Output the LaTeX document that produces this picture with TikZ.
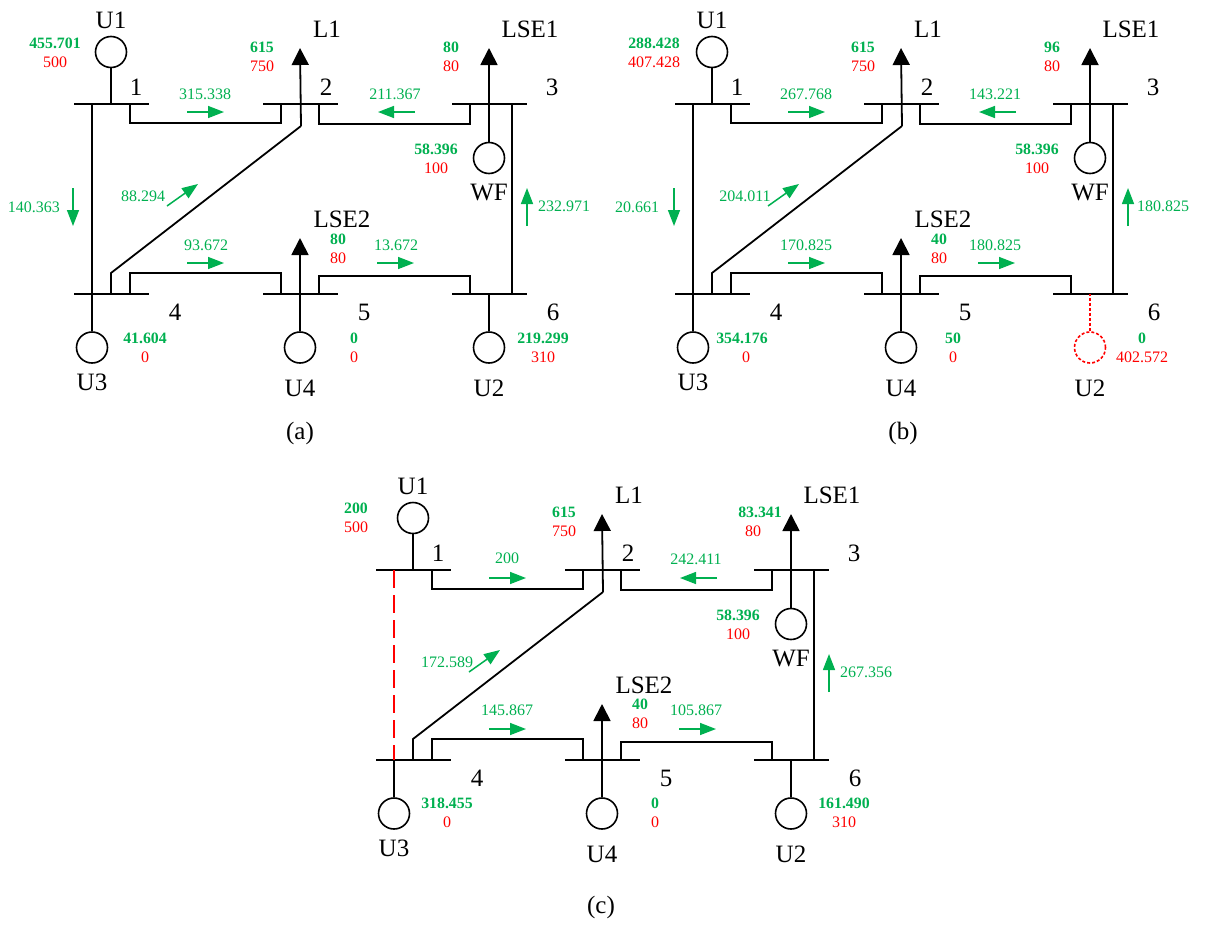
\documentclass[tikz,border=0pt]{standalone}
\usepackage{fontspec}
\setmainfont{Liberation Serif}
\usepackage{xcolor}
\usepackage{tikz}
\usetikzlibrary{arrows.meta, positioning, calc}
\definecolor{flowgreen}{RGB}{0,176,80}
\definecolor{limitred}{RGB}{255,0,0}

\tikzset{
    bus/.style={rectangle, fill=black, inner sep=0pt, minimum width=75pt, minimum height=1.9pt},
    gen/.style={circle, draw, line width=1.6pt, inner sep=0pt, minimum size=31pt},
    wire/.style={line width=1.8pt},
    load/.style={line width=1.8pt, -{Triangle[length=17pt, width=17pt]}},
    flow/.style={flowgreen, line width=1.5pt, -{Triangle[length=16pt, width=12pt]}},
    unitname/.style={inner sep=0pt, font=\fontsize{25}{27}\selectfont},
    busno/.style={inner sep=0pt, font=\fontsize{25}{27}\selectfont},
    flowval/.style={inner sep=0pt, text=flowgreen, font=\fontsize{16}{18}\selectfont},
    outval/.style={inner sep=0pt, text=flowgreen, font=\bfseries\fontsize{15.8}{18}\selectfont},
    capval/.style={inner sep=0pt, text=limitred, font=\fontsize{16}{18}\selectfont},
    panelcap/.style={inner sep=0pt, font=\fontsize{25}{27}\selectfont}
}

% green output with its red limit below
\newcommand{\valpair}[5][0]{
    \node[outval] (#2g) at (#3) {#4};
    \node[capval] (#2r) at ([xshift=#1pt, yshift=-19pt]#2g.center) {#5};
}

% network shared by the panels: #1 style of U2 and its stem
\newcommand{\drawnet}[1]{
    \foreach \n/\x/\y/\nx/\ny in {1/111/104/136/87, 2/300/104/326/87, 3/489/104/552/87,
                                  4/111/294/175/312, 5/300/294/364/312, 6/489/294/553/312} {
        \node[bus] (bus\n) at (\x,\y) {};
        \node[busno] (no\n) at (\nx,\ny) {\n};
    }
    % units and wind farm
    \node[gen] (U1c) at (111,52) {};
    \node[gen] (U3c) at (92,347.5) {};
    \node[gen] (U4c) at (300,347.5) {};
    \node[gen, #1] (U2c) at (489,347.5) {};
    \node[gen] (WFc) at (489,158) {};
    \node[unitname] (U1) at (111,20) {U1};
    \node[unitname] (U3) at (92,382) {U3};
    \node[unitname] (U4) at (300,388) {U4};
    \node[unitname] (U2) at (489,388) {U2};
    \node[unitname] (WF) at (489,192) {WF};
    \node[unitname] (L1) at (327,29) {L1};
    \node[unitname] (LSE1) at (530,29) {LSE1};
    \node[unitname] (LSE2) at (342,219) {LSE2};
    \coordinate (L1tip) at (300,48);
    \coordinate (L1foot) at (301,126);
    \coordinate (LSE1tip) at (489,48);
    \coordinate (LSE2tip) at (300,238);
    \coordinate (diag) at (111,273);

    \draw[wire] (U1c) -- (U1c |- bus1.center);
    \draw[wire] (U3c) -- (U3c |- bus4.center);
    \draw[wire] (U4c) -- (U4c |- bus5.center);
    \draw[wire, #1] (U2c) -- (U2c |- bus6.center);
    \draw[load] (L1foot) -- (L1tip);
    \draw[load] (WFc) -- (LSE1tip);
    \draw[load] (U4c) -- (LSE2tip);

    \draw[wire] ([xshift=19pt]bus1.center) -- ++(0,19) -| ([xshift=-19pt]bus2.center);
    \draw[wire] ([xshift=19pt]bus2.center) -- ++(0,20) -| ([xshift=-19pt]bus3.center);
    \draw[wire] ([xshift=19pt]bus4.center) -- ++(0,-21) -| ([xshift=-19pt]bus5.center);
    \draw[wire] ([xshift=19pt]bus5.center) -- ++(0,-18) -| ([xshift=-19pt]bus6.center);
    \draw[wire] ([xshift=23pt]bus3.center) -- ([xshift=23pt]bus6.center);
    \draw[wire] (L1foot) -- (diag) -- (diag |- bus4.center);

    % flow arrows
    \foreach \f/\xa/\ya/\xb/\yb in {fa/187/112/224/112, fb/415/112/378/112, fc/167/206/198/184,
                                    fd/527/226/527/188, fe/187/263/224/263, ff/377/263/414/263} {
        \coordinate (\f s) at (\xa,\ya);
        \coordinate (\f e) at (\xb,\yb);
        \draw[flow] (\f s) -- (\f e);
    }
}

\begin{document}
\begin{tikzpicture}[x=1pt, y=-1pt]
\useasboundingbox (0,0) rectangle (1207,924);

% panel (a)
\begin{scope}[name prefix=a-]
\drawnet{}
\draw[wire] ([xshift=-19pt]bus1.center) -- ([xshift=-19pt]bus4.center);
\coordinate (fgs) at (73,188);
\coordinate (fge) at (73,226);
\draw[flow] (fgs) -- (fge);
\valpair{u1}{55,43}{455.701}{500}
\valpair{l1}{262,47}{615}{750}
\valpair{ls1}{451,47}{80}{80}
\valpair{wf}{436,149}{58.396}{100}
\valpair{ls2}{338,239}{80}{80}
\valpair{u3}{145,338}{41.604}{0}
\valpair{u4}{354,338}{0}{0}
\valpair{u2}{543,338}{219.299}{310}
\foreach \f/\x/\y/\val in {v12/205/94/315.338, v23/395/94/211.367, v14/34/207/140.363, v24/143/196/88.294,
                           v36/564/206/232.971, v45/206/245/93.672, v56/396/245/13.672}
    \node[flowval] (\f) at (\x,\y) {\val};
\end{scope}

% panel (b)
\begin{scope}[shift={(601,0)}, name prefix=b-]
\drawnet{limitred, dash pattern=on 3pt off 2pt}
\draw[wire] ([xshift=-19pt]bus1.center) -- ([xshift=-19pt]bus4.center);
\coordinate (fgs) at (73,188);
\coordinate (fge) at (73,226);
\draw[flow] (fgs) -- (fge);
\valpair{u1}{53,43}{288.428}{407.428}
\valpair{l1}{262,47}{615}{750}
\valpair{ls1}{451,47}{96}{80}
\valpair{wf}{436,149}{58.396}{100}
\valpair{ls2}{338,239}{40}{80}
\valpair[4]{u3}{141,338}{354.176}{0}
\valpair{u4}{352,338}{50}{0}
\valpair{u2}{541,338}{0}{402.572}
\foreach \f/\x/\y/\val in {v12/205/94/267.768, v23/394/94/143.221, v14/36/207/20.661, v24/144/196/204.011,
                           v36/562/206/180.825, v45/205/245/170.825, v56/394/245/180.825}
    \node[flowval] (\f) at (\x,\y) {\val};
\end{scope}

% panel (c)
\begin{scope}[shift={(302,466)}, name prefix=c-]
\drawnet{}
\draw[wire, limitred, dash pattern=on 18pt off 7pt] ([xshift=-19pt]bus1.center) -- ([xshift=-19pt]bus4.center);
\valpair{u1}{54,42}{200}{500}
\valpair{l1}{262,46}{615}{750}
\valpair[-7]{ls1}{458,46}{83.341}{80}
\valpair{wf}{436,149}{58.396}{100}
\valpair{ls2}{338,238}{40}{80}
\valpair{u3}{145,337}{318.455}{0}
\valpair{u4}{353,337}{0}{0}
\valpair{u2}{542,337}{161.490}{310}
\foreach \f/\x/\y/\val in {v12/205/92/200, v23/394/93/242.411, v24/145/196/172.589,
                           v36/564/206/267.356, v45/205/244/145.867, v56/394/244/105.867}
    \node[flowval] (\f) at (\x,\y) {\val};
\end{scope}

\node[panelcap] (capa) at (300,433) {(a)};
\node[panelcap] (capb) at (903,433) {(b)};
\node[panelcap] (capc) at (601,907) {(c)};
\end{tikzpicture}
\end{document}
